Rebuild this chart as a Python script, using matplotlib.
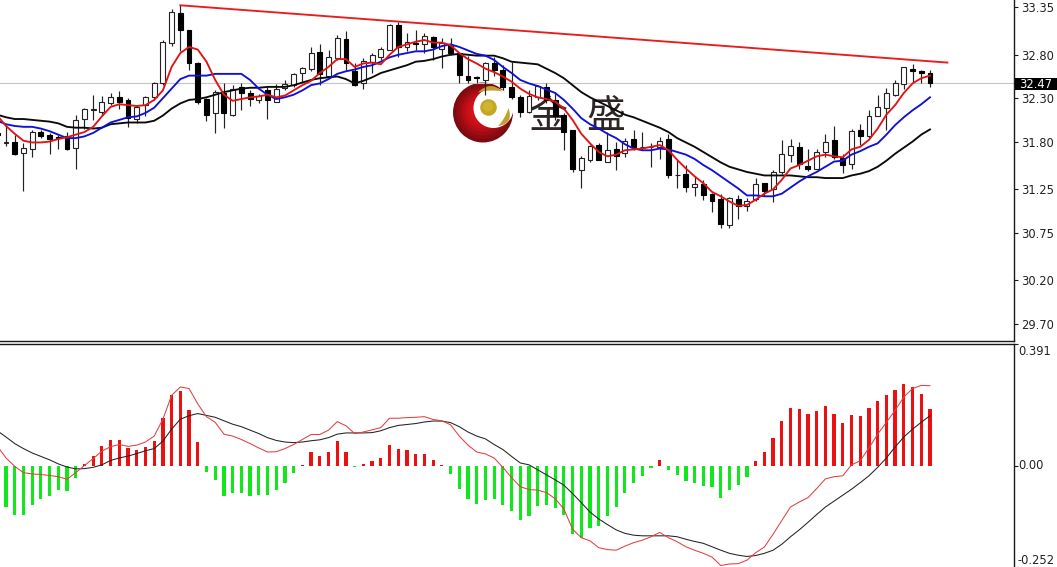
import numpy as np
import matplotlib
matplotlib.use("Agg")
import matplotlib.pyplot as plt
from matplotlib.patches import Circle, PathPatch
from matplotlib.path import Path

W, H = 1057, 567

# candles, first entry is the partly hidden candle left of the frame (index -1)
opens = [31.90,31.78,31.79,31.67,31.72,31.91,31.88,31.85,31.87,31.73,32.06,32.16,32.14,32.25,32.31,32.28,32.06,32.22,32.31,32.47,32.94,33.28,33.09,32.71,32.29,32.13,32.36,32.11,32.43,32.36,32.28,32.39,32.26,32.42,32.45,32.59,32.64,32.83,32.56,32.76,32.98,
         32.61,32.48,32.72,32.77,32.86,33.14,32.89,32.94,32.92,33.01,32.87,32.91,32.82,32.55,32.54,32.51,32.70,32.63,32.43,32.31,32.14,32.31,32.43,32.28,32.11,31.93,31.47,31.59,31.76,31.57,31.71,31.67,31.83,31.74,31.74,31.74,31.83,31.41,31.43,31.28,
         31.31,31.20,31.14,30.84,31.14,31.06,31.14,31.32,31.25,31.45,31.65,31.74,31.52,31.49,31.68,31.82,31.61,31.54,31.93,31.86,32.10,32.19,32.34,32.46,32.64,32.61,32.59]
highs = [32.03,31.99,31.88,31.78,31.93,31.93,31.90,31.88,31.91,32.11,32.19,32.34,32.32,32.36,32.38,32.30,32.22,32.33,32.49,32.97,33.33,33.37,33.09,32.72,32.30,32.40,32.47,32.45,32.47,32.39,32.35,32.43,32.46,32.51,32.59,32.66,32.89,32.92,32.85,33.03,33.07,
         32.71,32.76,32.82,32.89,33.16,33.18,33.05,33.09,33.05,33.02,32.99,32.99,32.82,32.79,32.55,32.72,32.78,32.68,32.72,32.34,32.39,32.45,32.47,32.37,32.13,31.93,31.63,31.76,31.78,31.91,31.80,31.84,31.93,31.91,31.78,31.85,31.89,31.59,31.53,31.40,
         31.36,31.21,31.20,31.16,31.18,31.15,31.38,31.32,31.47,31.82,31.83,31.80,31.71,31.72,31.89,31.98,31.66,31.94,32.00,32.16,32.34,32.42,32.51,32.66,32.69,32.62,32.63]
lows = [31.80,31.75,31.65,31.23,31.62,31.84,31.66,31.72,31.70,31.49,31.95,32.05,32.11,32.22,32.18,31.97,32.01,32.09,32.28,32.45,32.90,32.84,32.63,32.23,32.04,31.90,31.96,32.10,32.16,32.21,32.24,32.06,32.26,32.40,32.43,32.49,32.61,32.45,32.53,32.74,32.63,
        32.44,32.41,32.59,32.74,32.85,32.77,32.84,32.86,32.82,32.74,32.65,32.80,32.48,32.48,32.47,32.34,32.55,32.40,32.29,32.08,32.13,32.28,32.24,32.05,31.70,31.45,31.27,31.57,31.59,31.57,31.47,31.62,31.70,31.70,31.51,31.60,31.38,31.26,31.22,31.17,
        31.13,30.99,30.80,30.81,30.91,31.00,31.12,31.17,31.10,31.43,31.56,31.48,31.46,31.48,31.62,31.60,31.44,31.48,31.76,31.84,32.09,31.93,32.32,32.41,32.47,32.48,32.43]
closes = [31.88,31.80,31.66,31.73,31.91,31.86,31.83,31.84,31.72,32.05,32.18,32.17,32.26,32.31,32.26,32.07,32.20,32.31,32.48,32.95,33.29,33.09,32.70,32.26,32.11,32.37,32.13,32.41,32.36,32.29,32.33,32.28,32.41,32.46,32.58,32.65,32.82,32.58,32.77,32.99,32.70,
          32.45,32.73,32.80,32.87,33.14,32.89,32.95,32.92,33.02,32.89,32.93,32.82,32.57,32.51,32.53,32.70,32.62,32.43,32.31,32.14,32.32,32.44,32.28,32.09,31.91,31.48,31.61,31.75,31.59,31.70,31.63,31.81,31.74,31.74,31.74,31.81,31.41,31.41,31.28,31.31,
          31.18,31.12,30.85,31.15,31.06,31.12,31.31,31.23,31.45,31.66,31.75,31.54,31.48,31.68,31.80,31.62,31.53,31.92,31.86,32.10,32.20,32.36,32.47,32.66,32.61,32.59,32.47]

# moving averages, first entry at index -1
ma_red = [32.10,31.98,31.89,31.81,31.79,31.79,31.80,31.83,31.85,31.88,31.91,31.97,32.09,32.20,32.23,32.22,32.21,32.22,32.28,32.39,32.66,32.82,32.89,32.86,32.72,32.51,32.34,32.27,32.29,32.31,32.32,32.34,32.31,32.33,32.39,32.45,32.50,32.59,32.66,32.75,32.75,
          32.66,32.70,32.71,32.69,32.80,32.89,32.92,32.95,32.97,32.94,32.94,32.91,32.82,32.75,32.70,32.64,32.60,32.55,32.49,32.41,32.35,32.31,32.29,32.26,32.18,32.05,31.89,31.78,31.68,31.63,31.65,31.70,31.71,31.72,31.74,31.76,31.70,31.59,31.49,31.40,
          31.32,31.22,31.17,31.11,31.06,31.07,31.13,31.20,31.25,31.36,31.49,31.53,31.58,31.63,31.65,31.63,31.62,31.71,31.74,31.82,31.95,32.11,32.22,32.36,32.47,32.53,32.56]
ma_blue = [32.04,32.00,31.98,31.97,31.97,31.95,31.92,31.88,31.84,31.84,31.86,31.90,31.96,32.02,32.05,32.08,32.09,32.13,32.19,32.30,32.41,32.52,32.56,32.56,32.56,32.58,32.58,32.58,32.58,32.51,32.41,32.34,32.29,32.31,32.34,32.39,32.45,32.47,32.52,32.58,32.61,
           32.63,32.66,32.68,32.72,32.77,32.80,32.82,32.84,32.84,32.86,32.90,32.92,32.89,32.85,32.81,32.79,32.74,32.66,32.59,32.51,32.47,32.44,32.40,32.36,32.28,32.18,32.07,32.00,31.95,31.89,31.84,31.77,31.72,31.70,31.70,31.72,31.71,31.68,31.65,31.60,
           31.53,31.47,31.40,31.33,31.26,31.18,31.18,31.17,31.17,31.20,31.27,31.34,31.40,31.45,31.51,31.57,31.58,31.65,31.69,31.74,31.78,31.88,31.99,32.08,32.16,32.23,32.31]
ma_black = [32.11,32.08,32.06,32.06,32.05,32.04,32.03,32.01,31.97,31.96,31.96,31.95,31.96,32.00,32.01,32.02,32.02,32.02,32.04,32.10,32.18,32.24,32.28,32.29,32.31,32.34,32.37,32.39,32.41,32.42,32.42,32.43,32.43,32.43,32.45,32.48,32.51,32.53,32.54,32.55,32.52,
            32.47,32.50,32.54,32.59,32.62,32.65,32.68,32.72,32.73,32.75,32.78,32.80,32.81,32.80,32.79,32.79,32.79,32.76,32.72,32.71,32.70,32.69,32.64,32.59,32.53,32.45,32.37,32.31,32.26,32.21,32.16,32.11,32.08,32.04,32.00,31.96,31.91,31.84,31.79,31.74,
            31.68,31.62,31.56,31.51,31.48,31.45,31.43,31.41,31.41,31.41,31.41,31.40,31.39,31.39,31.38,31.38,31.38,31.41,31.43,31.46,31.51,31.58,31.66,31.73,31.80,31.88,31.94]

# trend line
trend_index = [20, 108]
trend_price = [33.37, 32.71]
last_price = 32.47

price_ticks = [33.35, 32.80, 32.30, 31.80, 31.25, 30.75, 30.20, 29.70]
price_labels = ["33.35", "32.80", "32.30", "31.80", "31.25", "30.75", "30.20", "29.70"]

# MACD histogram from index 0
macd_hist = [-0.132,-0.159,-0.159,-0.127,-0.107,-0.096,-0.078,-0.081,-0.038,0.006,0.032,0.063,0.082,0.084,0.057,0.050,0.060,0.079,0.153,0.227,0.239,0.179,0.075,-0.021,-0.047,-0.096,-0.087,-0.087,-0.096,-0.092,-0.092,-0.076,-0.054,-0.024,0.004,0.043,0.030,0.045,0.079,0.043,
             -0.003,0.005,0.014,0.025,0.066,0.054,0.049,0.037,0.037,0.017,0.002,-0.025,-0.073,-0.107,-0.121,-0.108,-0.105,-0.125,-0.145,-0.173,-0.161,-0.130,-0.125,-0.134,-0.156,-0.217,-0.230,-0.199,-0.194,-0.161,-0.133,-0.086,-0.055,-0.032,-0.008,0.019,-0.015,-0.029,-0.050,-0.055,
             -0.064,-0.069,-0.102,-0.076,-0.061,-0.035,0.016,0.043,0.088,0.144,0.186,0.181,0.164,0.175,0.192,0.166,0.138,0.161,0.160,0.186,0.207,0.227,0.242,0.261,0.253,0.231,0.183]
# MACD lines, first entry at index -1
macd_red = [0.063,0.025,-0.002,-0.022,-0.026,-0.028,-0.031,-0.035,-0.043,-0.022,0.001,0.023,0.047,0.061,0.068,0.062,0.066,0.076,0.095,0.149,0.225,0.252,0.247,0.198,0.157,0.139,0.101,0.095,0.084,0.071,0.057,0.044,0.045,0.055,0.068,0.084,0.100,0.100,0.114,0.141,0.128,
            0.103,0.108,0.115,0.122,0.152,0.152,0.154,0.155,0.157,0.148,0.144,0.131,0.095,0.066,0.044,0.038,0.025,-0.005,-0.038,-0.067,-0.076,-0.078,-0.086,-0.105,-0.138,-0.203,-0.230,-0.240,-0.262,-0.268,-0.270,-0.257,-0.246,-0.238,-0.227,-0.213,-0.230,-0.243,-0.259,-0.270,
            -0.280,-0.292,-0.319,-0.314,-0.313,-0.302,-0.278,-0.260,-0.219,-0.175,-0.132,-0.116,-0.102,-0.073,-0.042,-0.035,-0.032,0.003,0.016,0.057,0.101,0.139,0.177,0.220,0.247,0.257,0.256]
macd_black = [0.112,0.092,0.071,0.055,0.041,0.030,0.019,0.006,-0.004,-0.010,-0.009,-0.005,0.003,0.017,0.025,0.031,0.039,0.048,0.055,0.079,0.117,0.149,0.160,0.167,0.161,0.155,0.144,0.133,0.125,0.114,0.103,0.090,0.081,0.076,0.074,0.076,0.080,0.083,0.090,0.101,0.105,
              0.105,0.105,0.106,0.112,0.122,0.129,0.132,0.135,0.140,0.143,0.143,0.138,0.125,0.108,0.095,0.086,0.068,0.052,0.030,0.009,0.003,-0.013,-0.029,-0.045,-0.062,-0.089,-0.118,-0.148,-0.170,-0.188,-0.205,-0.216,-0.222,-0.224,-0.224,-0.224,-0.224,-0.227,-0.235,-0.242,
              -0.248,-0.259,-0.270,-0.280,-0.286,-0.290,-0.287,-0.280,-0.270,-0.251,-0.227,-0.205,-0.181,-0.156,-0.132,-0.113,-0.094,-0.075,-0.054,-0.032,-0.005,0.025,0.060,0.092,0.117,0.139,0.160]
macd_ticks = [0.391, 0.0]

plt.rcParams["font.family"] = ["DejaVu Sans"]
fig = plt.figure(figsize=(W / 100, H / 100), dpi=100, facecolor="white")

def box(x0, y0, x1, y1):
    return [x0 / W, 1 - y1 / H, (x1 - x0) / W, (y1 - y0) / H]

# watermark (under the chart), in pixel coordinates
bg = fig.add_axes([0, 0, 1, 1], zorder=0)
bg.set_xlim(0, W); bg.set_ylim(H, 0); bg.axis("off")
shades = ["#7c0a10", "#8e0b12", "#a00c14", "#b40d16", "#c40e18", "#d0101a", "#d8121c"]
for k, c in enumerate(shades):
    r = 30 - k * 3.2
    bg.add_patch(Circle((483 - k * 0.2, 112.5 - k * 0.3), r, fc=c, ec="none"))
bg.add_patch(Circle((493.5, 108), 20, fc="white", ec="none"))
bg.add_patch(Circle((488.5, 107.5), 8.3, fc="#c4a824", ec="none"))
bg.add_patch(Circle((488, 106.5), 5, fc="#d0b430", ec="none"))
Q = Path.CURVE3
bg.add_patch(PathPatch(Path([(478, 92.5), (490, 80), (502.5, 91.5), (490, 89), (478, 92.5)],
                            [Path.MOVETO, Q, Q, Q, Q]), fc="#bfa230", ec="none"))
bg.add_patch(PathPatch(Path([(498, 126), (514, 124), (508.5, 108), (505, 119), (498, 126)],
                            [Path.MOVETO, Q, Q, Q, Q]), fc="#bfa230", ec="none"))
cjk = ["Noto Sans CJK SC", "DejaVu Sans"]
bg.text(548, 117, "金", family=cjk, fontsize=28, color="#2e2626", ha="center", va="center")
bg.text(606, 117, "盛", family=cjk, fontsize=28, color="#2e2626", ha="center", va="center")

# x scale shared by both panels
x_left = -0.688
x_right = 115.64
AXIS = "#1a1a1a"

# price panel
ax = fig.add_axes(box(0, 0, 1014, 341), zorder=2)
ax.patch.set_alpha(0)
ax.set_xlim(x_left, x_right)
ax.set_ylim(29.503, 33.431)
idx = np.arange(len(opens)) - 1
ax.axhline(last_price, color="#c4c4c4", lw=0.8, zorder=1)
ax.vlines(idx, lows, highs, color="#222222", lw=0.85, zorder=2)
o = np.array(opens); c = np.array(closes)
up = c >= o
ax.bar(idx[up], (c - o)[up], bottom=o[up], width=0.56, fc="white", ec="#222222", lw=0.8, zorder=3)
ax.bar(idx[~up], (c - o)[~up], bottom=o[~up], width=0.56, fc="black", ec="black", lw=0.8, zorder=3)
ax.plot(idx, ma_black, color="#0a0a0a", lw=1.35, zorder=4)
ax.plot(idx, ma_blue, color="#1010d8", lw=1.35, zorder=5)
ax.plot(idx, ma_red, color="#e01414", lw=1.35, zorder=6)
ax.plot(trend_index, trend_price, color="#e81c1c", lw=1.35, zorder=6)

ax.yaxis.tick_right()
ax.set_yticks(price_ticks, price_labels)
ax.tick_params(axis="y", length=3, width=0.8, color=AXIS, pad=2, labelsize=8.3, labelcolor="#222222")
ax.set_xticks([])
for s in ["top", "left"]:
    ax.spines[s].set_visible(False)
ax.spines["right"].set_color(AXIS)
ax.spines["right"].set_linewidth(1.0)
ax.spines["bottom"].set_color(AXIS)
ax.spines["bottom"].set_linewidth(1.0)
fig.add_artist(plt.Rectangle((1015 / W, 1 - 90 / H), 42 / W, 12.5 / H, transform=fig.transFigure,
                             fc="black", ec="none", zorder=5))
fig.text(1019 / W, 1 - 84 / H, f"{last_price:.2f}", color="white", fontsize=8.3, ha="left", va="center", zorder=6)

# MACD panel
ax2 = fig.add_axes(box(0, 343.5, 1014, 567), zorder=2)
ax2.patch.set_alpha(0)
ax2.set_xlim(x_left, x_right)
ax2.set_ylim(-0.3237, 0.391)
hist = np.array(macd_hist)
hx = np.arange(len(hist))
ax2.bar(hx[hist >= 0], hist[hist >= 0], width=0.37, color="#ec1010", lw=0, zorder=2)
ax2.bar(hx[hist < 0], hist[hist < 0], width=0.37, color="#12e61c", lw=0, zorder=2)
ax2.plot(idx, macd_black, color="#222222", lw=0.75, zorder=3)
ax2.plot(idx, macd_red, color="#e04040", lw=0.75, zorder=4)
ax2.set_xticks([])
ax2.yaxis.tick_right()
ax2.set_yticks(macd_ticks, [])
ax2.tick_params(axis="y", length=3, width=0.8, color=AXIS)
for s in ["left", "bottom"]:
    ax2.spines[s].set_visible(False)
ax2.spines["top"].set_color(AXIS)
ax2.spines["top"].set_linewidth(1.0)
ax2.spines["right"].set_color(AXIS)
ax2.spines["right"].set_linewidth(1.0)
fig.text(1018 / W, 1 - 351.5 / H, "0.391", fontsize=8.3, color="#222222", ha="left", va="center")
fig.text(1018 / W, 1 - 465.5 / H, "0.00", fontsize=8.3, color="#222222", ha="left", va="center")
fig.text(1017 / W, 1 - 560 / H, "-0.252", fontsize=8.3, color="#222222", ha="left", va="center")

fig.savefig("out.png", dpi=100)
